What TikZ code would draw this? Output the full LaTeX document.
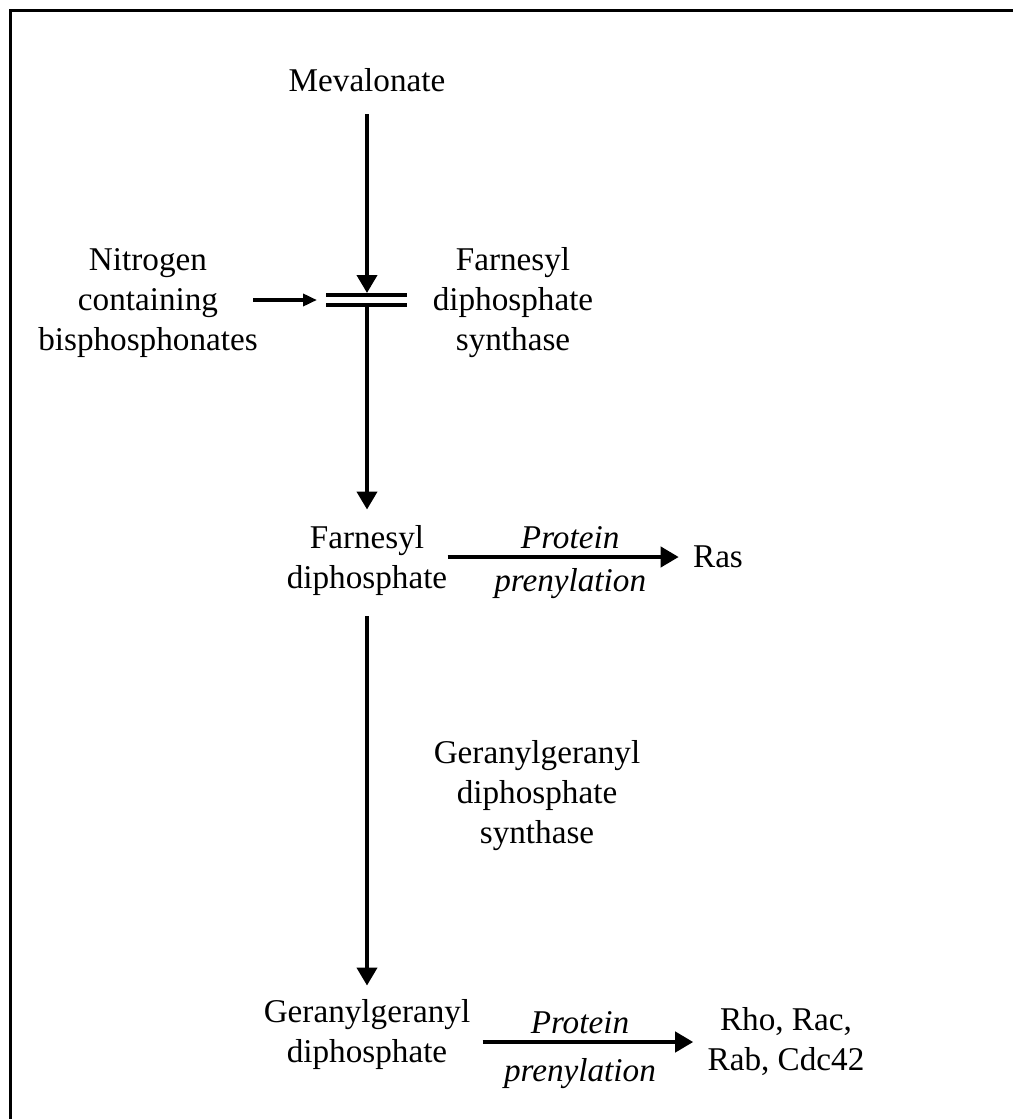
\documentclass[tikz,border=0pt]{standalone}
\usepackage{fontspec}
\setmainfont{Liberation Serif}[
  ItalicFont={Liberation Serif Italic},
  BoldFont={Liberation Serif Bold}]
\usetikzlibrary{arrows.meta, calc}

\begin{document}
\begin{tikzpicture}[
    x=0.5pt, y=-0.5pt,
    metab/.style={align=center, inner sep=0pt,
                  font=\fontsize{16.6}{20}\selectfont},
    flow/.style={line width=2pt, shorten >=7pt,
                 -{Triangle[length=9pt, width=10pt]}},
    inhib/.style={line width=2.4pt, -{Triangle[length=7pt, width=6pt]}},
    bar/.style={line width=2pt},
    lbl/.style={font=\fontsize{16.6}{20}\selectfont\itshape, midway},
  ]
  \useasboundingbox (0,0) rectangle (1013,1119);
  % Frame
  \draw[line width=1.5pt] (10.5,1119) -- (10.5,10.5) -- (1013,10.5);

  % Metabolites
  \node[metab] (mev) at (367,80) {Mevalonate};
  \node[metab] (fpp) at (367,561) {Farnesyl\\diphosphate};
  \node[metab] (ggpp) at (367,1035) {Geranylgeranyl\\diphosphate};
  \node[metab] (ras) at (718,557) {Ras};
  \node[metab] (rho) at (786,1042) {Rho, Rac,\\Rab, Cdc42};

  % Enzymes and inhibitor
  \node[metab] (nbp) at (148,303) {Nitrogen\\containing\\bisphosphonates};
  \node[metab] (fdps) at (513,303) {Farnesyl\\diphosphate\\synthase};
  \node[metab] (ggps) at (537,796) {Geranylgeranyl\\diphosphate\\synthase};

  % Blocked step
  \coordinate (blk) at (367,300);
  \draw[bar] ($(blk)+(-41,-5)$) -- ($(blk)+(40,-5)$);
  \draw[bar] ($(blk)+(-41,5)$) -- ($(blk)+(40,5)$);

  % Pathway
  \draw[flow, shorten <=11pt, shorten >=0pt] (mev) -- ($(blk)+(0,-7)$);
  \draw[flow, shorten >=8pt] ($(blk)+(0,7)$) -- (fpp);
  \draw[flow, shorten <=10pt] (fpp) -- (ggpp);
  \draw[inhib, shorten <=-2.5pt] (nbp.east |- blk) -- ($(blk)+(-50,0)$);

  % Prenylation
  \draw[flow] (fpp.east |- ras) -- (ras)
    node[lbl, above, inner sep=3pt] {Protein}
    node[lbl, below, inner sep=4.5pt] {prenylation};
  \draw[flow, shorten <=6pt] (ggpp.east |- rho) -- (rho)
    node[lbl, above, inner sep=3pt, xshift=-4.5pt] {Protein}
    node[lbl, below, inner sep=7pt, xshift=-4.5pt] {prenylation};
\end{tikzpicture}
\end{document}
